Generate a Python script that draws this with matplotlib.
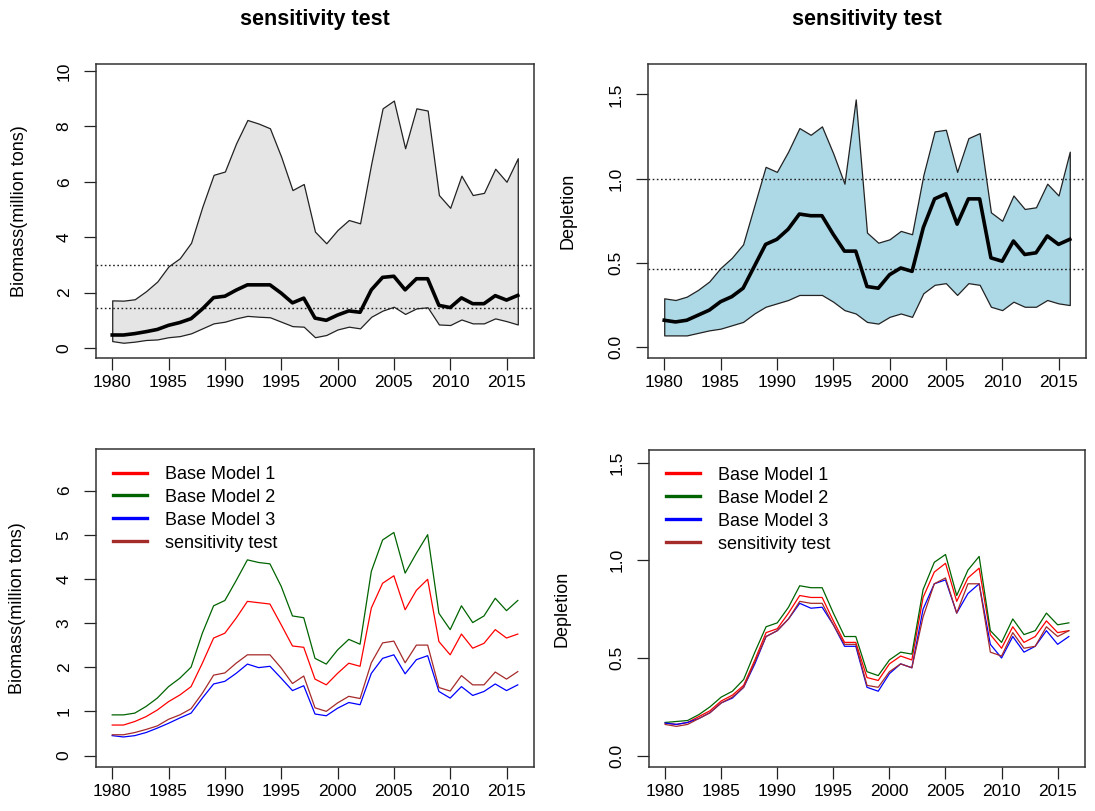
import numpy as np
import matplotlib
matplotlib.use("Agg")
import matplotlib.pyplot as plt

plt.rcParams['font.family'] = ['Liberation Sans', 'DejaVu Sans']

years = list(range(1980, 2017))

# top panels: range and median of the sensitivity test
bio_upper = [1.72, 1.71, 1.76, 2.05, 2.40, 2.95, 3.24, 3.80, 5.10, 6.25, 6.37, 7.39, 8.23, 8.10, 7.93, 6.90, 5.70, 5.92, 4.20, 3.78,
             4.26, 4.62, 4.50, 6.67, 8.65, 8.93, 7.21, 8.65, 8.57, 5.52, 5.06, 6.22, 5.52, 5.60, 6.47, 6.00, 6.85]
bio_med = [0.47, 0.47, 0.52, 0.59, 0.67, 0.82, 0.92, 1.06, 1.41, 1.82, 1.87, 2.09, 2.28, 2.28, 2.28, 1.98, 1.63, 1.80, 1.08, 1.00,
           1.19, 1.34, 1.29, 2.10, 2.55, 2.59, 2.10, 2.50, 2.50, 1.54, 1.46, 1.81, 1.60, 1.60, 1.89, 1.73, 1.90]
bio_low = [0.25, 0.19, 0.23, 0.29, 0.31, 0.39, 0.43, 0.53, 0.71, 0.89, 0.95, 1.07, 1.16, 1.13, 1.11, 0.95, 0.79, 0.77, 0.39, 0.47,
           0.67, 0.77, 0.71, 1.13, 1.35, 1.49, 1.23, 1.43, 1.47, 0.85, 0.83, 1.03, 0.89, 0.89, 1.07, 0.97, 0.85]
bio_ref = [3.0, 1.43]

dep_upper = [0.29, 0.28, 0.30, 0.34, 0.39, 0.47, 0.53, 0.61, 0.84, 1.07, 1.04, 1.16, 1.30, 1.26, 1.31, 1.15, 0.97, 1.47, 0.68, 0.62,
             0.64, 0.69, 0.67, 1.02, 1.28, 1.29, 1.04, 1.24, 1.27, 0.80, 0.75, 0.90, 0.82, 0.83, 0.97, 0.90, 1.16]
dep_med = [0.16, 0.15, 0.16, 0.19, 0.22, 0.27, 0.30, 0.35, 0.48, 0.61, 0.64, 0.70, 0.79, 0.78, 0.78, 0.67, 0.57, 0.57, 0.36, 0.35,
           0.43, 0.47, 0.45, 0.71, 0.88, 0.91, 0.73, 0.88, 0.88, 0.53, 0.51, 0.63, 0.55, 0.56, 0.66, 0.61, 0.64]
dep_low = [0.07, 0.07, 0.07, 0.085, 0.10, 0.11, 0.13, 0.15, 0.20, 0.24, 0.26, 0.28, 0.31, 0.31, 0.31, 0.27, 0.22, 0.20, 0.15, 0.14,
           0.18, 0.20, 0.18, 0.32, 0.37, 0.38, 0.31, 0.38, 0.37, 0.24, 0.22, 0.27, 0.24, 0.24, 0.28, 0.26, 0.25]
dep_ref = [1.0, 0.464]

# bottom panels: base models
bio_m1 = [0.69, 0.69, 0.77, 0.88, 1.03, 1.22, 1.37, 1.56, 2.09, 2.66, 2.77, 3.11, 3.49, 3.46, 3.43, 2.96, 2.48, 2.45, 1.73, 1.60,
          1.86, 2.09, 2.02, 3.34, 3.90, 4.07, 3.30, 3.74, 3.99, 2.58, 2.28, 2.75, 2.43, 2.54, 2.85, 2.66, 2.75]
bio_m2 = [0.92, 0.92, 0.96, 1.11, 1.30, 1.56, 1.75, 2.00, 2.77, 3.39, 3.51, 3.96, 4.43, 4.37, 4.34, 3.83, 3.16, 3.12, 2.20, 2.07,
          2.39, 2.63, 2.52, 4.17, 4.88, 5.05, 4.13, 4.58, 5.00, 3.22, 2.85, 3.39, 3.01, 3.16, 3.56, 3.28, 3.51]
bio_m3 = [0.45, 0.42, 0.45, 0.52, 0.62, 0.73, 0.85, 0.96, 1.30, 1.62, 1.68, 1.86, 2.07, 1.99, 2.02, 1.75, 1.47, 1.58, 0.94, 0.90,
          1.07, 1.20, 1.15, 1.86, 2.20, 2.28, 1.85, 2.17, 2.26, 1.45, 1.30, 1.56, 1.36, 1.45, 1.62, 1.47, 1.60]

dep_m1 = [0.167, 0.16, 0.17, 0.20, 0.23, 0.28, 0.31, 0.36, 0.49, 0.63, 0.65, 0.73, 0.82, 0.81, 0.81, 0.69, 0.58, 0.58, 0.40, 0.385,
          0.47, 0.51, 0.49, 0.81, 0.94, 0.985, 0.79, 0.91, 0.96, 0.62, 0.55, 0.66, 0.58, 0.61, 0.69, 0.63, 0.64]
dep_m2 = [0.17, 0.175, 0.18, 0.21, 0.25, 0.30, 0.33, 0.39, 0.53, 0.66, 0.68, 0.76, 0.87, 0.86, 0.86, 0.73, 0.61, 0.61, 0.43, 0.41,
          0.49, 0.53, 0.52, 0.85, 0.99, 1.03, 0.82, 0.95, 1.02, 0.64, 0.58, 0.70, 0.62, 0.64, 0.73, 0.67, 0.68]
dep_m3 = [0.167, 0.16, 0.17, 0.19, 0.22, 0.27, 0.295, 0.35, 0.47, 0.61, 0.64, 0.70, 0.78, 0.755, 0.76, 0.67, 0.56, 0.56, 0.35, 0.33,
          0.42, 0.47, 0.45, 0.75, 0.88, 0.90, 0.73, 0.83, 0.88, 0.57, 0.50, 0.61, 0.53, 0.56, 0.64, 0.57, 0.61]

labels = ["Base Model 1", "Base Model 2", "Base Model 3", "sensitivity test"]
colors = ["#ff0000", "#006400", "#0000ff", "#a52a2a"]


def style(ax, ylim, yticks, ylabels, ylab, labx):
    ax.set_xlim(1978.56, 2017.44)
    ax.set_ylim(*ylim)
    ax.set_xticks(range(1980, 2016, 5))
    ax.set_yticks(yticks)
    ax.set_yticklabels(ylabels, rotation=90, va="center")
    ax.tick_params(direction="out", length=8.5, width=0.9, labelsize=12.5, color="#222222")
    ax.tick_params(axis="x", pad=4)
    ax.tick_params(axis="y", pad=9)
    for s in ax.spines.values():
        s.set_linewidth(1.1)
        s.set_color("#333333")
    ax.set_ylabel(ylab, fontsize=13)
    ax.yaxis.set_label_coords(labx, 0.5)


fig = plt.figure(figsize=(10.95, 8.11), dpi=100)
W, H = 1095, 811


def axes_px(l, t, r, b):
    return fig.add_axes([l / W, 1 - b / H, (r - l) / W, (b - t) / H])


ax1 = axes_px(96, 64, 534, 358)
ax2 = axes_px(648, 64, 1086, 358)
ax3 = axes_px(96, 449, 534, 767)
ax4 = axes_px(649, 450, 1085, 767)

# top left
ax1.fill_between(years, bio_low, bio_upper, facecolor="#e5e5e5", edgecolor="#222222", linewidth=0.9)
for h in bio_ref:
    ax1.axhline(h, color="#222222", linestyle=(0, (1.2, 1.8)), linewidth=1)
ax1.plot(years, bio_med, color="black", linewidth=2.6)
style(ax1, (-0.36, 10.25), [0, 2, 4, 6, 8, 10], ["0", "2", "4", "6", "8", "10"], "Biomass(million tons)", -0.156)

# top right
ax2.fill_between(years, dep_low, dep_upper, facecolor="#add8e6", edgecolor="#222222", linewidth=0.9)
for h in dep_ref:
    ax2.axhline(h, color="#222222", linestyle=(0, (1.2, 1.8)), linewidth=1)
ax2.plot(years, dep_med, color="black", linewidth=2.6)
style(ax2, (-0.064, 1.68), [0, 0.5, 1.0, 1.5], ["0.0", "0.5", "1.0", "1.5"], "Depletion", -0.163)

# bottom left
for series, c, lab in zip([bio_m1, bio_m2, bio_m3, bio_med], colors, labels):
    ax3.plot(years, series, color=c, linewidth=0.9, label=lab)
style(ax3, (-0.26, 6.94), [0, 1, 2, 3, 4, 5, 6], ["0", "1", "2", "3", "4", "5", "6"], "Biomass(million tons)", -0.159)

# bottom right
for series, c, lab in zip([dep_m1, dep_m2, dep_m3, dep_med], colors, labels):
    ax4.plot(years, series, color=c, linewidth=0.9, label=lab)
style(ax4, (-0.058, 1.565), [0, 0.5, 1.0, 1.5], ["0.0", "0.5", "1.0", "1.5"], "Depletion", -0.18)

for ax in (ax3, ax4):
    leg = ax.legend(loc="upper left", bbox_to_anchor=(0.038, 0.947), frameon=False, fontsize=13,
                    handlelength=1.9, handletextpad=1.0, labelspacing=0.33, borderpad=0, borderaxespad=0)
    for line in leg.get_lines():
        line.set_linewidth(2.4)

for ax in (ax1, ax2):
    bb = ax.get_position()
    fig.text((bb.x0 + bb.x1) / 2, 1 - 20 / H, "sensitivity test", ha="center", va="center",
             fontsize=15.5, fontweight="bold")

fig.savefig("out.png", dpi=100)
